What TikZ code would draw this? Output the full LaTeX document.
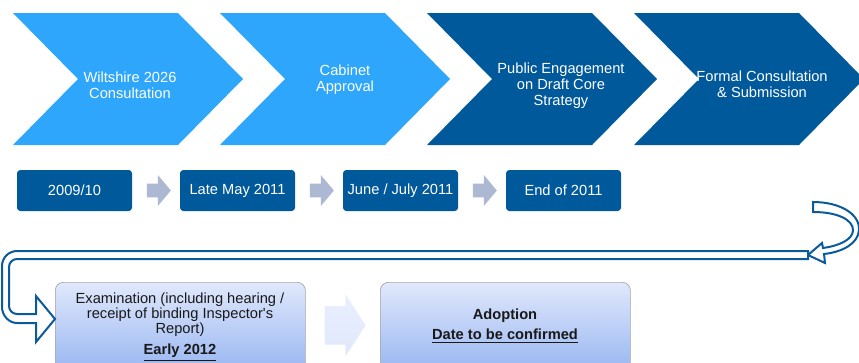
\documentclass[tikz,border=0pt]{standalone}
\usepackage{fontspec}
\setmainfont{Liberation Sans}
\usetikzlibrary{positioning, shapes.arrows, calc}

\definecolor{lightchev}{HTML}{2DA6FC}
\definecolor{darkchev}{HTML}{00599B}
\definecolor{greyarrow}{HTML}{ADB8D2}
\definecolor{bandline}{HTML}{0B5A9C}
\definecolor{boxtop}{HTML}{E0E8FC}
\definecolor{boxbot}{HTML}{98B6F1}

\tikzset{
  chevtext/.style={text=white, align=center, inner sep=0pt, font=\fontsize{11}{12}\selectfont},
  datebox/.style={fill=darkchev, rounded corners=2.5pt, minimum width=86.25pt, minimum height=30.75pt,
    text=white, inner sep=0pt, font=\fontsize{11}{12}\selectfont},
  steparrow/.style={single arrow, fill=greyarrow, draw=none, minimum height=18pt, inner xsep=0pt,
    inner ysep=4.9pt, single arrow head extend=6.4pt, single arrow tip angle=100},
  stagebox/.style={rounded corners=6pt, draw=black!35, line width=0.5pt, top color=boxtop, bottom color=boxbot,
    minimum width=187.5pt, minimum height=67.5pt, inner sep=0pt},
  stagetext/.style={align=center, text=black!90, inner sep=0pt, font=\fontsize{11}{11.25}\selectfont},
  bandarrow/.style={draw=bandline, line width=1.5pt, fill=white, line join=miter}
}

\begin{document}
\begin{tikzpicture}[x=0.75pt, y=-0.75pt]
\useasboundingbox (0,0) rectangle (859,362);

% chevrons along the top
\foreach \x/\col in {13/lightchev, 220/lightchev, 427/darkchev, 634/darkchev}
  \fill[\col] (\x,13) -- ++(165,0) -- ++(65,66) -- ++(-65,66) -- ++(-165,0) -- ++(65,-66) -- cycle;

\node[chevtext] (c1) at (130,85) {Wiltshire 2026\\Consultation};
\node[chevtext] (c2) at (345,80) {Cabinet\\Approval};
\node[chevtext] (c3) at (561,86) {Public Engagement\\on Draft Core\\Strategy};
\node[chevtext] (c4) at (762,84) {Formal Consultation\\\& Submission};

% dates
\node[datebox] (d1) at (74.5,190.5) {2009/10};
\node[datebox, right=35.6pt of d1] (d2) {Late May 2011};
\node[datebox, right=35.6pt of d2] (d3) {June / July 2011};
\node[datebox, right=35.6pt of d3] (d4) {End of 2011};

\node[steparrow] (a1) at ($(d1.east)!0.5!(d2.west)$) {};
\node[steparrow] (a2) at ($(d2.east)!0.5!(d3.west)$) {};
\node[steparrow] (a3) at ($(d3.east)!0.5!(d4.west)$) {};

% lower stages
\node[stagebox, anchor=north west] (exam) at (55,282) {};
\node[stagebox, anchor=north west] (adopt) at (380,282) {};
\node[stagetext] (examtext) at (180,327) {Examination (including hearing /\\receipt of binding Inspector\textquotesingle s\\Report)\\[4.5pt]\textbf{\underline{Early 2012}}};
\node[stagetext] (adopttext) at (505,326) {\textbf{Adoption}\\[3.75pt]\textbf{\underline{Date to be confirmed}}};

\node[single arrow, draw=none, top color=boxtop!70!white, bottom color=boxtop, minimum height=30.75pt,
  inner xsep=0pt, inner ysep=14.25pt, single arrow head extend=9pt, single arrow tip angle=114]
  (a4) at ($(exam.east)!0.5!(adopt.west)+(-4,-2)$) {};

% turn-round arrow
\coordinate (ctip) at (808,255);
\draw[bandarrow] (813,202) .. controls (840,202) and (860,214) .. (859,230)
  .. controls (858,244) and (842,252) .. (824,254) -- (825,263) -- (ctip) -- (822,243) -- (823,248)
  .. controls (838,246) and (853,240) .. (853,230) .. controls (853,220) and (838,212) .. (813,212) -- cycle;

\coordinate (etip) at (55,319);
\draw[bandarrow] (ctip |- 0,251) -- (17,251) .. controls (8.7,251) and (2,257.7) .. (2,266) -- (2,307)
  .. controls (2,315.3) and (8.7,323) .. (17,323) -- (36,323) -- (36,342) -- (etip) -- (36,296) -- (36,314)
  -- (17,314) .. controls (12.6,314) and (9,310.4) .. (9,306) -- (9,267) .. controls (9,262.6) and (12.6,259) .. (17,259)
  -- (ctip |- 0,259) -- cycle;
\end{tikzpicture}
\end{document}
